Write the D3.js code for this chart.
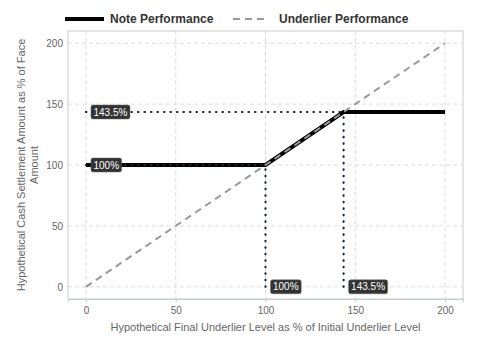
<!DOCTYPE html>
<html>
<head>
<meta charset="utf-8">
<script src="https://cdn.jsdelivr.net/npm/d3@7"></script>
<style>
  body { margin: 0; background: #fff; }
  text { font-family: "Liberation Sans", Arial, sans-serif; }
</style>
</head>
<body>
<div id="chart"></div>
<script>
const width = 480;
const height = 360;

// payoff data
const noteX = [0, 100, 143.5, 200];
const noteY = [100, 100, 143.5, 143.5];
const underX = [0, 200];
const underY = [0, 200];
const xTicks = [0, 50, 100, 150, 200];
const yTicks = [0, 50, 100, 150, 200];
const refLines = [
    {x1: 0, y1: 143.5, x2: 143.5, y2: 143.5},
    {x1: 0, y1: 100, x2: 100, y2: 100},
    {x1: 100, y1: 0, x2: 100, y2: 100},
    {x1: 143.5, y1: 0, x2: 143.5, y2: 143.5}
];
const labels = [
    {x: 0, y: 143.5, text: "143.5%"},
    {x: 0, y: 100, text: "100%"},
    {x: 100, y: 0, text: "100%"},
    {x: 143.5, y: 0, text: "143.5%"}
];

const svg = d3.select("#chart")
    .append("svg")
    .attr("width", width)
    .attr("height", height);

const x = d3.scaleLinear().domain([-10, 210]).range([68, 463]);
const y = d3.scaleLinear().domain([-10, 210]).range([299, 31]);

// grid
svg.append("g").selectAll("line")
    .data(xTicks)
    .join("line")
    .attr("x1", d => x(d)).attr("x2", d => x(d))
    .attr("y1", y.range()[1]).attr("y2", y.range()[0])
    .attr("stroke", "#dcdcdc")
    .attr("stroke-dasharray", "4,3");

svg.append("g").selectAll("line")
    .data(yTicks)
    .join("line")
    .attr("y1", d => y(d)).attr("y2", d => y(d))
    .attr("x1", x.range()[0]).attr("x2", x.range()[1])
    .attr("stroke", "#dcdcdc")
    .attr("stroke-dasharray", "4,3");

// panel border
svg.append("rect")
    .attr("x", x.range()[0])
    .attr("y", y.range()[1])
    .attr("width", x.range()[1] - x.range()[0])
    .attr("height", y.range()[0] - y.range()[1])
    .attr("fill", "none")
    .attr("stroke", "#cccccc");

// axes
const xAxis = svg.append("g")
    .attr("transform", `translate(0,${y.range()[0]})`)
    .call(d3.axisBottom(x).tickValues(xTicks).tickSize(3).tickPadding(5));
xAxis.select(".domain").attr("stroke", "#c2ccd4");
xAxis.selectAll(".tick line").attr("stroke", "#c2ccd4");
xAxis.selectAll("text").attr("fill", "#666").attr("font-size", 10)
    .style("font-family", "Liberation Sans, Arial, sans-serif");

const yAxis = svg.append("g")
    .attr("transform", `translate(${x.range()[0]},0)`)
    .call(d3.axisLeft(y).tickValues(yTicks).tickSize(0).tickPadding(5));
yAxis.select(".domain").remove();
yAxis.selectAll("text").attr("fill", "#666").attr("font-size", 10)
    .style("font-family", "Liberation Sans, Arial, sans-serif");

const line = d3.line().x(d => x(d[0])).y(d => y(d[1]));

// note performance
svg.append("path")
    .attr("d", line(d3.zip(noteX, noteY)))
    .attr("fill", "none")
    .attr("stroke", "#000")
    .attr("stroke-width", 4);

// underlier performance
svg.append("path")
    .attr("d", line(d3.zip(underX, underY)))
    .attr("fill", "none")
    .attr("stroke", "#999")
    .attr("stroke-width", 2)
    .attr("stroke-dasharray", "7,5");

// dotted reference lines
svg.append("g").selectAll("line")
    .data(refLines)
    .join("line")
    .attr("x1", d => x(d.x1)).attr("y1", d => y(d.y1))
    .attr("x2", d => x(d.x2)).attr("y2", d => y(d.y2))
    .attr("stroke", "#1c2833")
    .attr("stroke-width", 2.2)
    .attr("stroke-linecap", "round")
    .attr("stroke-dasharray", "0.5,6");

// labels
const lab = svg.append("g").selectAll("g")
    .data(labels)
    .join("g")
    .attr("transform", d => `translate(${x(d.x) + 5},${y(d.y)})`);
lab.append("text")
    .text(d => d.text)
    .attr("x", 2.5)
    .attr("dy", "0.35em")
    .attr("fill", "#fff")
    .attr("font-size", 10);
lab.each(function() {
    const g = d3.select(this);
    const bb = g.select("text").node().getBBox();
    g.insert("rect", "text")
        .attr("x", 0).attr("y", -7)
        .attr("width", bb.width + 5).attr("height", 14)
        .attr("rx", 2)
        .attr("fill", "#333")
        .attr("stroke", "#666")
        .attr("stroke-width", 0.5);
});

// axis titles
svg.append("text")
    .attr("x", (x.range()[0] + x.range()[1]) / 2)
    .attr("y", 331)
    .attr("text-anchor", "middle")
    .attr("fill", "#666")
    .attr("font-size", 11)
    .text("Hypothetical Final Underlier Level as % of Initial Underlier Level");

const yTitle = svg.append("text")
    .attr("transform", `translate(25,${(y.range()[0] + y.range()[1]) / 2}) rotate(-90)`)
    .attr("text-anchor", "middle")
    .attr("fill", "#666")
    .attr("font-size", 11);
yTitle.append("tspan").attr("x", 0).attr("dy", 0)
    .text("Hypothetical Cash Settlement Amount as % of Face");
yTitle.append("tspan").attr("x", 0).attr("dy", 13).text("Amount");

// legend
const legend = svg.append("g").attr("transform", "translate(0,19)");
legend.append("line")
    .attr("x1", 65).attr("x2", 104)
    .attr("stroke", "#000").attr("stroke-width", 4);
legend.append("text")
    .attr("x", 110).attr("dy", "0.35em")
    .attr("font-size", 12).attr("font-weight", "bold").attr("fill", "#333")
    .text("Note Performance");
legend.append("line")
    .attr("x1", 233).attr("x2", 268)
    .attr("stroke", "#999").attr("stroke-width", 2)
    .attr("stroke-dasharray", "7,5");
legend.append("text")
    .attr("x", 279).attr("dy", "0.35em")
    .attr("font-size", 12).attr("font-weight", "bold").attr("fill", "#333")
    .text("Underlier Performance");
</script>
</body>
</html>
